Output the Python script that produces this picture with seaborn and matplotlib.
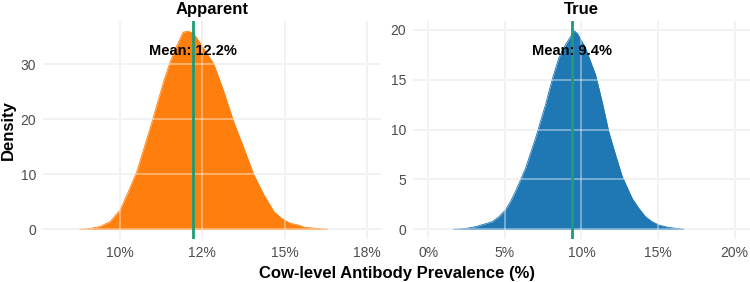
import numpy as np
import pandas as pd
import matplotlib
matplotlib.use("Agg")
import matplotlib.pyplot as plt
import seaborn as sns

# ---- data ----
panels = ["Apparent", "True"]
colors = ["#FF7F0E", "#1F77B4"]

apparent_x = [0.0878, 0.0908, 0.0939, 0.0970, 0.1000, 0.1025, 0.1051, 0.1074,
              0.1097, 0.1132, 0.1152, 0.1173, 0.1191, 0.1206, 0.1223, 0.1254,
              0.1284, 0.1315, 0.1345, 0.1376, 0.1406, 0.1437, 0.1467, 0.1490,
              0.1516, 0.1539, 0.1561, 0.1589, 0.1630]
apparent_y = [0.0, 0.15, 0.5, 1.4, 3.5, 6.8, 10.5, 15.0,
              19.5, 26.8, 30.4, 33.4, 35.8, 36.0, 35.6, 32.8,
              30.1, 25.0, 19.5, 14.7, 9.9, 6.2, 3.2, 2.0,
              1.1, 0.8, 0.36, 0.2, 0.0]

true_x = [0.0165, 0.0240, 0.0307, 0.0416, 0.0460, 0.0503, 0.0536, 0.0569,
          0.0634, 0.0699, 0.0765, 0.0808, 0.0852, 0.0895, 0.0939, 0.0955,
          0.0975, 0.1026, 0.1092, 0.1135, 0.1178, 0.1222, 0.1266, 0.1331,
          0.1375, 0.1418, 0.1462, 0.1505, 0.1560, 0.1614, 0.1669]
true_y = [0.0, 0.08, 0.26, 0.76, 1.26, 1.94, 2.77, 3.8,
          6.1, 9.1, 12.5, 15.0, 17.2, 18.5, 19.6, 19.9,
          19.6, 18.2, 15.5, 12.8, 9.8, 7.5, 5.3, 3.1,
          2.1, 1.26, 0.76, 0.43, 0.22, 0.1, 0.0]

means = [0.122, 0.094]
mean_labels = ["Mean: 12.2%", "Mean: 9.4%"]

apparent_xticks = [0.10, 0.125, 0.15, 0.175]
apparent_xticklabels = ["10%", "12%", "15%", "18%"]
apparent_yticks = [0, 10, 20, 30]
true_xticks = [0.0, 0.05, 0.10, 0.15, 0.20]
true_xticklabels = ["0%", "5%", "10%", "15%", "20%"]
true_yticks = [0, 5, 10, 15, 20]

df = pd.concat([
    pd.DataFrame({"x": apparent_x, "density": apparent_y, "panel": "Apparent"}),
    pd.DataFrame({"x": true_x, "density": true_y, "panel": "True"}),
], ignore_index=True)

# ---- styling ----
sns.set_theme(style="white")
plt.rcParams["font.family"] = ["Liberation Sans", "DejaVu Sans"]

fig = plt.figure(figsize=(7.5, 2.82), dpi=100)
W, H = 750.0, 282.0
top_px, bot_px = 20.7, 239.3
axL = fig.add_axes([43.3 / W, 1 - bot_px / H, (380.7 - 43.3) / W, (bot_px - top_px) / H])
axR = fig.add_axes([413.3 / W, 1 - bot_px / H, (750 - 413.3) / W, (bot_px - top_px) / H])

settings = [
    (axL, (0.07674, 0.17906), (-1.81, 37.9), apparent_xticks, apparent_xticklabels, apparent_yticks),
    (axR, (-0.0098, 0.2100), (-1.0, 20.93), true_xticks, true_xticklabels, true_yticks),
]

grid_col = "#E8E8E8"
for i, (ax, xl, yl, xt, xtl, yt) in enumerate(settings):
    sub = df[df["panel"] == panels[i]]
    ax.set_xlim(*xl)
    ax.set_ylim(*yl)
    # background grid
    for v in xt:
        ax.axvline(v, color=grid_col, lw=1.2, zorder=0)
    for v in yt:
        ax.axhline(v, color=grid_col, lw=1.2, zorder=0)
    ax.fill_between(sub["x"], 0, sub["density"], color=colors[i], lw=0, zorder=1)
    sns.lineplot(data=sub, x="x", y="density", ax=ax, color=colors[i], lw=0.6,
                 zorder=1.5, legend=False)
    # grid showing through the fill
    for v in xt:
        ax.axvline(v, color="white", lw=1.2, alpha=0.45, zorder=2)
    for v in yt:
        ax.axhline(v, color="white", lw=1.2, alpha=0.45, zorder=2)
    ax.axvline(means[i], color="#1A9E77", lw=2.0, zorder=3)
    peak = max(sub["density"])
    ax.text(means[i], 0.9 * peak, mean_labels[i], ha="center", va="center",
            fontsize=10.5, fontweight="bold", color="black", zorder=4)
    ax.set_xticks(xt)
    ax.set_xticklabels(xtl)
    ax.set_yticks(yt)
    ax.tick_params(axis="both", length=0, labelsize=10, colors="#4D4D4D")
    ax.tick_params(axis="x", pad=4.6)
    ax.tick_params(axis="y", pad=5.3)
    ax.set_xlabel("")
    ax.set_ylabel("")
    for s in ax.spines.values():
        s.set_visible(False)
    ax.set_title(panels[i], fontsize=12, fontweight="bold", pad=5.0, color="black")
    ax.grid(False)

fig.text(396.6 / W, 1 - 278 / H, "Cow-level Antibody Prevalence (%)", ha="center",
         va="baseline", fontsize=12, fontweight="bold", color="black")
fig.text(1.0 / W, 1 - 130 / H, "Density", ha="left", va="center", rotation=90,
         fontsize=12, fontweight="bold", color="black")

fig.savefig("out.png", dpi=100, facecolor="white")
